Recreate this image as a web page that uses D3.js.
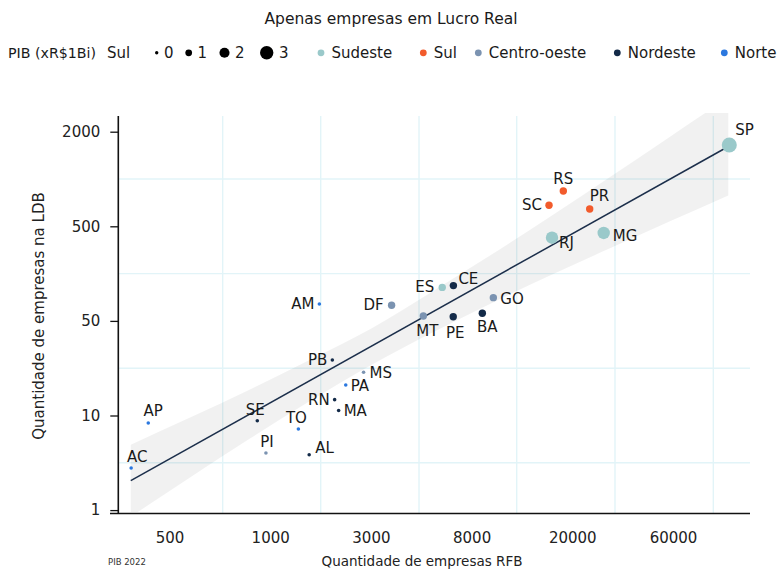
<!DOCTYPE html>
<html>
<head>
<meta charset="utf-8">
<script src="https://cdn.jsdelivr.net/npm/d3@7"></script>
<style>
  html, body { margin: 0; padding: 0; background: #ffffff; }
  svg { display: block; font-family: "DejaVu Sans", sans-serif; }
</style>
</head>
<body>
<svg id="chart" width="780" height="577"></svg>
<script>
// ---------------- data ----------------
const states  = ["SP","RS","SC","PR","RJ","MG","ES","CE","GO","MT","PE","BA","DF","AM","PB","MS","PA","RN","MA","SE","TO","AP","PI","AL","AC"];
const regionOf = ["Sudeste","Sul","Sul","Sul","Sudeste","Sudeste","Sudeste","Nordeste","Centro-oeste","Centro-oeste","Nordeste","Nordeste","Centro-oeste","Norte","Nordeste","Centro-oeste","Norte","Nordeste","Nordeste","Nordeste","Norte","Norte","Centro-oeste","Nordeste","Norte"];
const empresasRFB = [110880,18430,16180,24180,16630,28170,6010,6700,9750,5000,6690,8820,3670,1710,1970,2770,2280,2020,2110,915,1360,432,971,1530,384];
const empresasLDB = [1646,839,680,644,379,425,113,118,88,56.3,55.4,60.2,73.1,75.4,25.7,20.9,16.8,13.1,10.9,8.81,7.20,8.33,4.01,3.85,2.79];
const pibSize     = [3.5,1.2,1.2,1.2,2.7,2.7,1.2,1.2,1.2,1.2,1.2,1.2,1.2,0.05,0.05,0.05,0.05,0.05,0.05,0.05,0.05,0.05,0.05,0.05,0.05];

const xTicks = [500,1000,3000,8000,20000,60000];
const yTicks = [1,10,50,500,2000];
const xGrid  = [721,1735,4793,12059,31866,93140];

const trendX = [383,110800];
const trendY = [2.045,1622];

const bandX    = [383,576,870,1544,3026,5335,9458,16328,30176,58068,109690];
const bandHigh = [4.913,9.503,15.56,25.8,44.2,98.8,245.7,576,1031,1859,3307];
const bandLow  = [0.8515,2.217,5.713,12.8,23.7,40.2,75.6,150.6,292.7,538,786];

const sizeLegend   = [0,1,2,3];
const regions      = ["Sudeste","Sul","Centro-oeste","Nordeste","Norte"];
const regionColors = ["#9ac9ca","#f25b2c","#7b93b1","#132a48","#2b78df"];

// ---------------- layout ----------------
const svg = d3.select("#chart");
const plotLeft = 118.3, plotRight = 750, plotTop = 116, plotBottom = 513.5;

const x = d3.scaleLog().domain(xTicks).range(xTicks.map((d, i) => 169.5 + i * 100.7));
const y = d3.scaleLog().domain(yTicks).range(yTicks.map((d, i) => 510.1 - i * 94.6));
const r = d3.scaleLinear().domain([0, 3]).range([1.7, 6.7]);
const color = d3.scaleOrdinal().domain(regions).range(regionColors);

const data = states.map((s, i) => ({
  state: s, region: regionOf[i], rfb: empresasRFB[i], ldb: empresasLDB[i], pib: pibSize[i]
}));

// label placement: [anchor, dx, dy(baseline)]
const labelPos = {
  SP:["start",6,-10], RS:["middle",0,-7], SC:["end",-7,5], PR:["start",0,-8],
  RJ:["start",7,10], MG:["start",9,8], ES:["end",-8,5], CE:["start",5,-2],
  GO:["start",7,6], DF:["end",-8,5], MT:["middle",4,20], PE:["middle",2,21],
  BA:["middle",5,19], AM:["end",-5,5], PB:["end",-5,5], MS:["start",6,6],
  PA:["start",5,6], RN:["end",-5,5], MA:["start",5,6], SE:["middle",-2,-6],
  TO:["middle",-2,-6], AP:["middle",5,-7], PI:["middle",1,-6], AL:["start",6,-2],
  AC:["middle",6,-6]
};

// gridlines
const grid = svg.append("g").attr("stroke", "#e2f4f8").attr("stroke-width", 1.4);
grid.selectAll("line.gx").data(xGrid).join("line")
  .attr("class", "gx")
  .attr("x1", d => x(d)).attr("x2", d => x(d))
  .attr("y1", plotTop).attr("y2", plotBottom);
const yGrid = d3.pairs(yTicks).map(([a, b]) => Math.sqrt(a * b));
grid.selectAll("line.gy").data(yGrid).join("line")
  .attr("class", "gy")
  .attr("x1", plotLeft).attr("x2", plotRight)
  .attr("y1", d => y(d)).attr("y2", d => y(d));

// confidence band
svg.append("clipPath").attr("id", "clip")
  .append("rect").attr("x", plotLeft).attr("y", 113).attr("width", plotRight - plotLeft).attr("height", 512 - 113);

const bandData = bandX.map((d, i) => ({ x: d, lo: bandLow[i], hi: bandHigh[i] }));
svg.append("path")
  .datum(bandData)
  .attr("clip-path", "url(#clip)")
  .attr("fill", "#000")
  .attr("fill-opacity", 0.055)
  .attr("d", d3.area().x(d => x(d.x)).y0(d => y(d.lo)).y1(d => y(d.hi)).curve(d3.curveMonotoneX));

// trend line
svg.append("path")
  .datum(trendX.map((d, i) => ({ x: d, y: trendY[i] })))
  .attr("fill", "none")
  .attr("stroke", "#1c2f4b")
  .attr("stroke-width", 1.5)
  .attr("d", d3.line().x(d => x(d.x)).y(d => y(d.y)));

// axes
const yAxis = svg.append("g")
  .attr("transform", `translate(${plotLeft},0)`)
  .call(d3.axisLeft(y).tickValues(yTicks).tickFormat(d => String(d)).tickSize(8).tickPadding(10));
yAxis.select(".domain").remove();
yAxis.selectAll(".tick line").attr("stroke", "#111").attr("stroke-width", 1.3);
yAxis.selectAll(".tick text").attr("font-size", 15).attr("fill", "#222").attr("font-family", "DejaVu Sans");

const xAxis = svg.append("g")
  .attr("transform", `translate(0,${plotBottom})`)
  .call(d3.axisBottom(x).tickValues(xTicks).tickFormat(d => String(d)).tickSize(0).tickPadding(19));
xAxis.select(".domain").remove();
xAxis.selectAll(".tick text").attr("font-size", 15).attr("fill", "#222").attr("font-family", "DejaVu Sans");

svg.append("line").attr("x1", plotLeft).attr("x2", plotLeft).attr("y1", plotTop).attr("y2", plotBottom)
  .attr("stroke", "#111").attr("stroke-width", 1.6);
svg.append("line").attr("x1", 110).attr("x2", plotRight).attr("y1", plotBottom).attr("y2", plotBottom)
  .attr("stroke", "#111").attr("stroke-width", 1.6);

// axis titles
svg.append("text").attr("x", 422).attr("y", 566).attr("text-anchor", "middle")
  .attr("font-size", 13.5).attr("fill", "#222").text("Quantidade de empresas RFB");
svg.append("text").attr("transform", "translate(44,316) rotate(-90)").attr("text-anchor", "middle")
  .attr("font-size", 15).attr("fill", "#222").text("Quantidade de empresas na LDB");
svg.append("text").attr("x", 108).attr("y", 565).attr("font-size", 8.5).attr("fill", "#333").text("PIB 2022");

// points
svg.append("g").selectAll("circle").data(data).join("circle")
  .attr("cx", d => x(d.rfb)).attr("cy", d => y(d.ldb)).attr("r", d => r(d.pib))
  .attr("fill", d => color(d.region));

// point labels
svg.append("g").selectAll("text").data(data).join("text")
  .attr("x", d => x(d.rfb) + labelPos[d.state][1])
  .attr("y", d => y(d.ldb) + labelPos[d.state][2])
  .attr("text-anchor", d => labelPos[d.state][0])
  .attr("font-size", 15).attr("fill", "#1a1a1a")
  .text(d => d.state);

// title & legend
svg.append("text").attr("x", 391).attr("y", 24).attr("text-anchor", "middle")
  .attr("font-size", 15.5).attr("fill", "#1a1a1a").text("Apenas empresas em Lucro Real");

const legY = 57.5, dotY = 52.8;
svg.append("text").attr("x", 8).attr("y", legY).attr("font-size", 14.2).attr("fill", "#1a1a1a").text("PIB (xR$1Bi)");
svg.append("text").attr("x", 107).attr("y", legY).attr("font-size", 15).attr("fill", "#1a1a1a").text("Sul");

const sizeCx = [156.7, 188.7, 224.5, 266.7];
const sl = svg.append("g").selectAll("g").data(sizeLegend).join("g");
sl.append("circle").attr("cx", (d, i) => sizeCx[i]).attr("cy", dotY).attr("r", d => r(d)).attr("fill", "#000");
sl.append("text").attr("x", (d, i) => sizeCx[i] + r(d) + 5.5).attr("y", legY)
  .attr("font-size", 15).attr("fill", "#1a1a1a").text(d => d);

const regCx = [321, 423.3, 478.3, 617.3, 724.3];
const rl = svg.append("g").selectAll("g").data(regions).join("g");
rl.append("circle").attr("cx", (d, i) => regCx[i]).attr("cy", dotY).attr("r", 3.4).attr("fill", d => color(d));
rl.append("text").attr("x", (d, i) => regCx[i] + 10.5).attr("y", legY)
  .attr("font-size", 15).attr("fill", "#1a1a1a").text(d => d);
</script>
</body>
</html>
